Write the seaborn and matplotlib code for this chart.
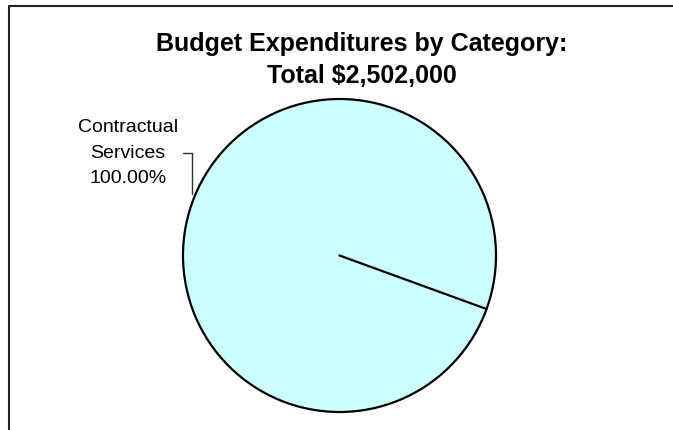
import numpy as np
import matplotlib.pyplot as plt
from matplotlib.lines import Line2D
import seaborn as sns

categories = ["Contractual\nServices"]
shares = [100.0]
total = "$2,502,000"

sns.set_theme(style="white")
plt.rcParams['font.family'] = ['Liberation Sans', 'DejaVu Sans']
plt.rcParams['text.color'] = 'black'

W, H = 673, 430
fig = plt.figure(figsize=(W / 100, H / 100), dpi=100)
ax = fig.add_axes([0, 0, 1, 1])

cx, cy, r = 339.5, H - 255.5, 156.5
wedges, _ = ax.pie(shares, colors=['#CCFFFF'], startangle=-20, center=(cx, cy),
                   radius=r, frame=True,
                   wedgeprops=dict(edgecolor='black', linewidth=1.6))
ax.set_xlim(0, W)
ax.set_ylim(0, H)
ax.set_aspect('equal')
ax.axis('off')

# slice boundary line from the centre to the start angle
th = np.deg2rad(wedges[0].theta1)
ax.plot([cx, cx + r * np.cos(th)], [cy, cy + r * np.sin(th)], color='black', lw=1.6)

# label with leader line
lab = f"{categories[0]}\n{shares[0]:.2f}%"
ax.text(128, H - 153, lab, ha='center', va='center', fontsize=14, linespacing=1.62)
ax.plot([183, 192, 192], [H - 153, H - 153, H - 194], color='#333333', lw=1)

fig.text(362 / W, 1 - 60 / H, f"Budget Expenditures by Category:\nTotal {total}",
         ha='center', va='center', fontsize=18, fontweight='bold', linespacing=1.45)

# chart border (cropped)
fig.add_artist(Line2D([9 / W, 1], [1 - 6 / H, 1 - 6 / H], transform=fig.transFigure, color='#222222', lw=1.5))
fig.add_artist(Line2D([9 / W, 9 / W], [0, 1 - 6 / H], transform=fig.transFigure, color='#222222', lw=1.5))

fig.savefig('out.png', dpi=100, facecolor='white')
